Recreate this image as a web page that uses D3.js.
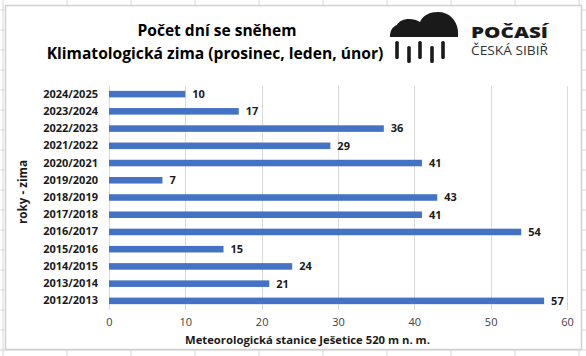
<!DOCTYPE html>
<html>
<head>
<meta charset="utf-8">
<script src="https://cdn.jsdelivr.net/npm/d3@7"></script>
<style>
  html, body { margin: 0; padding: 0; background: #fff; }
  svg { display: block; font-family: "Open Sans", sans-serif; }
</style>
</head>
<body>
<svg id="chart" width="586" height="356"></svg>
<script>
// ---- data ----
const categories = ["2024/2025","2023/2024","2022/2023","2021/2022","2020/2021","2019/2020","2018/2019","2017/2018","2016/2017","2015/2016","2014/2015","2013/2014","2012/2013"];
const values = [10,17,36,29,41,7,43,41,54,15,24,21,57];
const xTicks = [0,10,20,30,40,50,60];
const titleLines = ["Počet dní se sněhem", "Klimatologická zima (prosinec, leden, únor)"];
const xAxisTitle = "Meteorologická stanice Ješetice 520 m n. m.";
const yAxisTitle = "roky - zima";
const logoTexts = ["POČASÍ", "ČESKÁ SIBIŘ"];

const W = 586, H = 356;
const svg = d3.select("#chart");

function fit(sel, target) {
  const node = sel.node();
  const fs = parseFloat(sel.attr("font-size"));
  const len = node.getComputedTextLength();
  if (len > 0) sel.attr("font-size", (fs * target / len).toFixed(2));
  return sel;
}

// ---- spreadsheet background grid ----
const bg = svg.append("g");
d3.range(3, W, 64).forEach(x => bg.append("line").attr("x1", x).attr("x2", x).attr("y1", 0).attr("y2", H).attr("stroke", "#d6d6d6"));
d3.range(10, H, 20).forEach(y => bg.append("line").attr("x1", 0).attr("x2", W).attr("y1", y).attr("y2", y).attr("stroke", "#d6d6d6"));

// chart box
svg.append("rect").attr("x", 5.5).attr("y", 5.5).attr("width", 576).attr("height", 344)
  .attr("fill", "#fff").attr("stroke", "#d0d0d0").attr("stroke-width", 1.5);

// ---- scales ----
const x = d3.scaleLinear().domain([0, 60]).range([109, 567]);
const y = d3.scaleBand().domain(categories).range([85.5, 309.5]).paddingInner(0.62).paddingOuter(0.31);

// gridlines
svg.append("g").attr("transform", "translate(0,309.5)")
  .call(d3.axisBottom(x).tickValues(xTicks).tickSize(-224).tickFormat(""))
  .call(g => g.select(".domain").remove())
  .call(g => g.selectAll("line").attr("stroke", "#d9d9d9").attr("shape-rendering", "crispEdges"));

// x tick labels
svg.append("g").attr("transform", "translate(0,309.5)")
  .call(d3.axisBottom(x).tickValues(xTicks).tickSize(0).tickPadding(9))
  .call(g => g.select(".domain").remove())
  .call(g => g.selectAll("text").attr("font-size", 11).attr("fill", "#404040").attr("font-family", "Open Sans, sans-serif"));

// y axis labels
svg.append("g").attr("transform", "translate(109,0)")
  .call(d3.axisLeft(y).tickSize(0).tickPadding(11))
  .call(g => g.select(".domain").remove())
  .call(g => g.selectAll("text").attr("font-size", 11).attr("font-weight", "bold").attr("fill", "#1a1a1a").attr("font-family", "Open Sans, sans-serif"));

// bars
svg.append("g").selectAll("rect").data(values).join("rect")
  .attr("x", x(0))
  .attr("y", (d, i) => y(categories[i]))
  .attr("width", d => x(d) - x(0))
  .attr("height", y.bandwidth())
  .attr("fill", "#4472C4");

// value labels
svg.append("g").selectAll("text").data(values).join("text")
  .attr("x", d => x(d) + 7)
  .attr("y", (d, i) => y(categories[i]) + y.bandwidth() / 2)
  .attr("dy", "0.35em")
  .attr("font-size", 11).attr("font-weight", "bold").attr("fill", "#1a1a1a")
  .text(d => d);

// axis titles
fit(svg.append("text").attr("x", 185).attr("y", 344).attr("font-size", 11).attr("font-weight", "bold")
  .attr("fill", "#1a1a1a").text(xAxisTitle), 245);

const yt = svg.append("text").attr("transform", "translate(27,192) rotate(-90)").attr("text-anchor", "middle")
  .attr("font-size", 11).attr("font-weight", "bold").attr("fill", "#1a1a1a").text(yAxisTitle);
fit(yt, 64);

// title
fit(svg.append("text").attr("x", 217).attr("y", 36).attr("text-anchor", "middle").attr("font-size", 15)
  .attr("font-weight", "bold").attr("fill", "#000").text(titleLines[0]), 159);
fit(svg.append("text").attr("x", 215).attr("y", 59).attr("text-anchor", "middle").attr("font-size", 15)
  .attr("font-weight", "bold").attr("fill", "#000").text(titleLines[1]), 337);

// ---- logo ----
const logo = svg.append("g");
logo.append("path")
  .attr("d", "M390,37 C390,31 392,27 397,25 C399,21 404,19 409,19 C413,19 417,20 420,22 C423,15 430,12 438,12 C449,12 457,20 458,31 L458,37 Z")
  .attr("fill", "#1a1a1a");
const drops = [[397,41,18],[409,46,17],[420,41,18],[432,46,17],[443,41,18]];
logo.selectAll("rect.drop").data(drops).join("rect").attr("class", "drop")
  .attr("x", d => d[0] - 1.8).attr("y", d => d[1]).attr("width", 3.6).attr("height", d => d[2])
  .attr("rx", 1.6).attr("fill", "#1a1a1a");
logo.append("text").attr("x", 471).attr("y", 38).attr("font-size", 16.5).attr("font-weight", 800)
  .attr("fill", "#1a1a1a").attr("textLength", 77).attr("lengthAdjust", "spacingAndGlyphs").text(logoTexts[0]);
logo.append("text").attr("x", 471).attr("y", 55).attr("font-size", 12).attr("font-weight", 400)
  .attr("fill", "#333").attr("textLength", 77).attr("lengthAdjust", "spacingAndGlyphs").text(logoTexts[1]);
</script>
</body>
</html>
